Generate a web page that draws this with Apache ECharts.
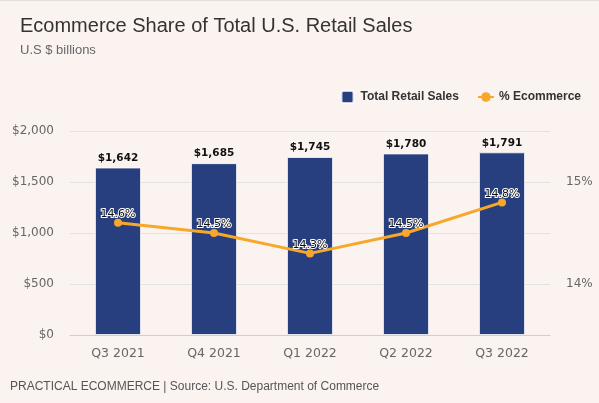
<!DOCTYPE html>
<html>
<head>
<meta charset="utf-8">
<script src="https://cdn.jsdelivr.net/npm/echarts@6/dist/echarts.min.js"></script>
<style>
html,body{margin:0;padding:0;background:#fbf3f0;}
#c{width:599px;height:402px;border-top:1px solid #e2dedc;}
</style>
</head>
<body>
<div id="c"></div>
<script>
const categories = ['Q3 2021','Q4 2021','Q1 2022','Q2 2022','Q3 2022'];
const retailSales = [1642, 1685, 1745, 1780, 1791];
const ecommerceShare = [14.6, 14.5, 14.3, 14.5, 14.8];

const chart = echarts.init(document.getElementById('c'), null, {renderer:'canvas'});
chart.setOption({
  backgroundColor: '#fbf3f0',
  animation: false,
  title: [
    {text:'Ecommerce Share of Total U.S. Retail Sales', left:15, top:10,
     textStyle:{fontFamily:'Liberation Sans', fontSize:20, fontWeight:'normal', color:'#333'}},
    {text:'U.S $ billions', left:15, top:38,
     textStyle:{fontFamily:'Liberation Sans', fontSize:13, fontWeight:'normal', color:'#666'}},
    {text:'PRACTICAL ECOMMERCE | Source: U.S. Department of Commerce', left:5, top:375,
     textStyle:{fontFamily:'Liberation Sans', fontSize:12, fontWeight:'normal', color:'#555'}}
  ],
  legend: {
    right: 13, top: 84, itemWidth: 16, itemHeight: 12, itemGap: 18,
    textStyle:{fontFamily:'Liberation Sans', fontSize:12, fontWeight:'bold', color:'#333'},
    data: [
      {name:'Total Retail Sales', icon:'path://M2,0H10A2,2 0 0 1 12,2V10A2,2 0 0 1 10,12H2A2,2 0 0 1 0,10V2A2,2 0 0 1 2,0Z'},
      {name:'% Ecommerce'}
    ]
  },
  grid: {left:70, right:49, top:130, bottom:68},
  xAxis: {
    type:'category', data: categories,
    axisTick:{show:false},
    axisLine:{lineStyle:{color:'#c6cfe8'}},
    axisLabel:{fontFamily:'DejaVu Sans', fontSize:12.5, color:'#666', margin:12}
  },
  yAxis: [
    {type:'value', min:0, max:2000, interval:500,
     splitLine:{lineStyle:{color:'#e3e3e3'}},
     axisLine:{show:false}, axisTick:{show:false},
     axisLabel:{fontFamily:'DejaVu Sans', fontSize:12, color:'#666', margin:16,
       formatter: v => '$' + v.toLocaleString('en-US')}},
    {type:'value', min:13.5, max:15.5, interval:0.5,
     splitLine:{show:false}, axisLine:{show:false}, axisTick:{show:false},
     axisLabel:{fontFamily:'DejaVu Sans', fontSize:12, color:'#666', margin:16,
       formatter: v => (Math.abs(v - Math.round(v)) < 1e-6 ? Math.round(v) + '%' : '')}}
  ],
  series: [
    {name:'Total Retail Sales', type:'bar', data: retailSales, barWidth:'48%',
     itemStyle:{color:'#273f7f', borderColor:'rgba(255,255,255,0.75)', borderWidth:1},
     label:{show:true, position:'top', distance:4, fontFamily:'DejaVu Sans', fontSize:10.5,
       fontWeight:'bold', color:'#111', formatter: p => '$' + p.value.toLocaleString('en-US')}},
    {name:'% Ecommerce', type:'line', yAxisIndex:1, data: ecommerceShare,
     color:'#f7a82a', lineStyle:{width:3, color:'#f7a82a'},
     symbol:'circle', symbolSize:8, itemStyle:{color:'#f7a82a'},
     label:{show:true, position:'top', distance:-1, fontFamily:'DejaVu Sans', fontSize:11,
       color:'#111', textBorderColor:'#fff', textBorderWidth:2,
       formatter: p => p.value.toFixed(1) + '%'}}
  ]
});
</script>
</body>
</html>
